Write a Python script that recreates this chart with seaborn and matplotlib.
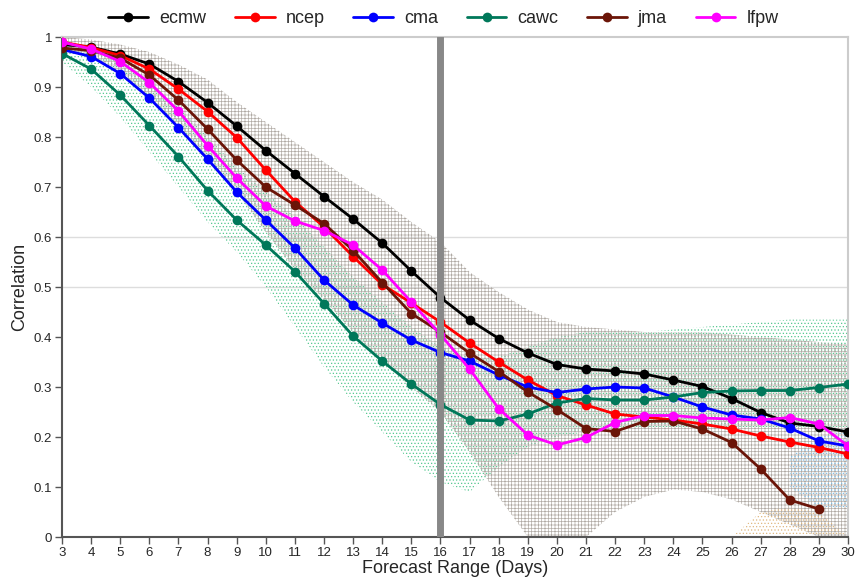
import numpy as np
import pandas as pd
import matplotlib
matplotlib.use("Agg")
import matplotlib.pyplot as plt
import seaborn as sns

days = list(range(3, 31))
ecmw = [0.985, 0.980, 0.966, 0.946, 0.911, 0.869, 0.822, 0.773, 0.727, 0.681, 0.636, 0.588, 0.532, 0.479,
        0.434, 0.397, 0.368, 0.345, 0.336, 0.332, 0.326, 0.314, 0.301, 0.277, 0.249, 0.228, 0.221, 0.210]
ncep = [0.990, 0.979, 0.963, 0.936, 0.896, 0.851, 0.799, 0.734, 0.671, 0.620, 0.561, 0.505, 0.468, 0.430,
        0.388, 0.350, 0.314, 0.283, 0.264, 0.246, 0.240, 0.234, 0.226, 0.216, 0.202, 0.190, 0.179, 0.166]
cma = [0.975, 0.961, 0.927, 0.878, 0.819, 0.756, 0.690, 0.634, 0.578, 0.514, 0.464, 0.428, 0.394, 0.369,
       0.352, 0.324, 0.300, 0.289, 0.296, 0.300, 0.298, 0.280, 0.260, 0.244, 0.236, 0.218, 0.192, 0.182]
cawc = [0.967, 0.936, 0.884, 0.823, 0.761, 0.693, 0.634, 0.584, 0.531, 0.467, 0.402, 0.352, 0.306, 0.265,
        0.234, 0.232, 0.246, 0.268, 0.277, 0.274, 0.274, 0.280, 0.289, 0.292, 0.293, 0.293, 0.299, 0.306]
jma = [0.978, 0.973, 0.958, 0.924, 0.874, 0.816, 0.754, 0.700, 0.664, 0.627, 0.573, 0.509, 0.447, 0.410,
       0.368, 0.331, 0.290, 0.255, 0.217, 0.211, 0.231, 0.232, 0.216, 0.189, 0.136, 0.074, 0.056, np.nan]
lfpw = [0.990, 0.976, 0.951, 0.909, 0.852, 0.783, 0.718, 0.662, 0.632, 0.613, 0.584, 0.534, 0.470, 0.405,
        0.336, 0.257, 0.204, 0.184, 0.199, 0.229, 0.243, 0.243, 0.238, 0.236, 0.234, 0.239, 0.226, 0.182]

# spread bands (stippled areas)
ecmw_lo = [0.98, 0.96, 0.93, 0.88, 0.82, 0.75, 0.69, 0.61, 0.535, 0.475, 0.41, 0.35, 0.30, 0.25,
           0.17, 0.08, 0.0, 0.0, 0.0, 0.05, 0.08, 0.095, 0.09, 0.075, 0.05, 0.025, 0.0, 0.0]
ecmw_hi = [1.0, 0.995, 0.985, 0.97, 0.945, 0.915, 0.87, 0.83, 0.79, 0.75, 0.71, 0.675, 0.63, 0.59,
           0.53, 0.49, 0.455, 0.43, 0.42, 0.415, 0.41, 0.41, 0.41, 0.405, 0.40, 0.395, 0.39, 0.385]
cawc_lo = [0.95, 0.90, 0.84, 0.77, 0.70, 0.63, 0.57, 0.50, 0.42, 0.34, 0.27, 0.21, 0.15, 0.11,
           0.09, 0.14, 0.18, 0.20, 0.21, 0.22, 0.22, 0.22, 0.22, 0.22, 0.22, 0.22, 0.22, 0.22]
cawc_hi = [0.99, 0.975, 0.95, 0.91, 0.86, 0.80, 0.74, 0.69, 0.64, 0.58, 0.52, 0.47, 0.42, 0.38,
           0.36, 0.36, 0.38, 0.40, 0.41, 0.41, 0.41, 0.415, 0.42, 0.425, 0.43, 0.435, 0.435, 0.435]
tan_days = [26, 27, 28, 29, 30]
tan_hi = [0.0, 0.05, 0.06, 0.05, 0.0]
blue_days = [28, 29, 30]
blue_lo = [0.10, 0.06, 0.06]
blue_hi = [0.16, 0.20, 0.22]

models = ["ecmw", "ncep", "cma", "cawc", "jma", "lfpw"]
colors = ["#000000", "#ff0000", "#0000ff", "#00785a", "#6b1508", "#ff00ff"]

df = pd.DataFrame({"day": days, "ecmw": ecmw, "ncep": ncep, "cma": cma,
                   "cawc": cawc, "jma": jma, "lfpw": lfpw})
long = df.melt(id_vars="day", var_name="model", value_name="corr").dropna()

sns.set_style("white")
plt.rcParams["font.family"] = ["Liberation Sans", "DejaVu Sans"]
plt.rcParams["hatch.linewidth"] = 0.5

fig = plt.figure(figsize=(8.56, 5.83), dpi=100)
ax = fig.add_axes([0.0724, 0.0789, 0.9183, 0.8576])

ax.fill_between(days, cawc_lo, cawc_hi, facecolor="none", edgecolor="#55c890",
                hatch="." * 5, linewidth=0, zorder=1)
ax.fill_between(days, ecmw_lo, ecmw_hi, facecolor="none", edgecolor="#b0aaa4",
                hatch="+" * 5, linewidth=0, zorder=1)
ax.fill_between(tan_days, 0, tan_hi, facecolor="none", edgecolor="#e0b880",
                hatch="." * 5, linewidth=0, zorder=1)
ax.fill_between(blue_days, blue_lo, blue_hi, facecolor="none", edgecolor="#80c0e8",
                hatch="." * 5, linewidth=0, zorder=1)

for v in [0.5, 0.6]:
    ax.axhline(v, color="#dddddd", linewidth=1, zorder=0)

sns.lineplot(data=long, x="day", y="corr", hue="model", hue_order=models,
             palette=colors, marker="o", markersize=7, markeredgewidth=0,
             linewidth=2, ax=ax, zorder=3)

ax.axvline(16, color="#888888", linewidth=5, zorder=5)

ax.set_xlim(3, 30)
ax.set_ylim(0, 1)
ax.set_xticks(days)
ax.set_yticks(np.arange(0, 1.01, 0.1))
ax.set_yticklabels(["0", "0.1", "0.2", "0.3", "0.4", "0.5", "0.6", "0.7", "0.8", "0.9", "1"])
ax.tick_params(axis="both", direction="out", length=5, width=1, color="#555555",
               labelsize=9.5, pad=2, left=True, bottom=True)
ax.set_xlabel("Forecast Range (Days)", fontsize=13, labelpad=1)
ax.set_ylabel("Correlation", fontsize=13, labelpad=4)

for s in ["left", "bottom"]:
    ax.spines[s].set_color("#555555")
    ax.spines[s].set_linewidth(1.5)
for s in ["top", "right"]:
    ax.spines[s].set_color("#cccccc")
    ax.spines[s].set_linewidth(1.5)

handles, labels = ax.get_legend_handles_labels()
ax.legend_.remove()
fig.legend(handles, labels, loc="upper center", bbox_to_anchor=(0.518, 1.01), ncol=6,
           frameon=False, fontsize=13, handlelength=2.2, columnspacing=1.6,
           handletextpad=0.6)

fig.savefig("out.png", dpi=100)
